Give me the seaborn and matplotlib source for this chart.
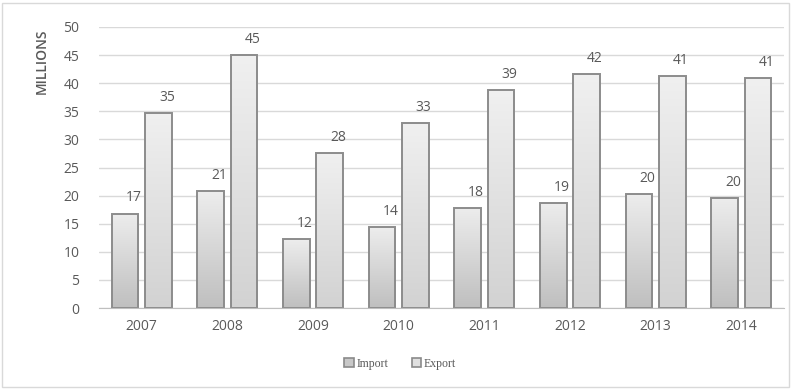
import numpy as np
import pandas as pd
import matplotlib
matplotlib.use("Agg")
import matplotlib.pyplot as plt
import seaborn as sns
from matplotlib.patches import Rectangle, Patch
from matplotlib.colors import LinearSegmentedColormap

years = ["2007", "2008", "2009", "2010", "2011", "2012", "2013", "2014"]
import_vals = [16.8, 20.8, 12.2, 14.4, 17.8, 18.7, 20.3, 19.6]
export_vals = [34.7, 45.0, 27.6, 32.9, 38.8, 41.6, 41.3, 40.9]
series = ["Import", "Export"]

df = pd.DataFrame({
    "Year": years * 2,
    "Value": import_vals + export_vals,
    "Series": ["Import"] * len(years) + ["Export"] * len(years),
})

sns.set_style("white")
plt.rcParams["font.family"] = ["Open Sans", "DejaVu Sans"]

W, H = 792, 389
fig = plt.figure(figsize=(W / 100, H / 100), dpi=100)
ax = fig.add_axes([99 / W, 1 - 308 / H, (784 - 99) / W, (308 - 27) / H])

sns.barplot(data=df, x="Year", y="Value", hue="Series", hue_order=series,
            ax=ax, width=0.78, gap=0.2, legend=False,
            palette=["#d0d0d0", "#e4e4e4"], edgecolor="#8c8c8c", linewidth=1.4)

ax.set_ylim(0, 50)
ax.set_yticks(range(0, 51, 5))
ax.grid(axis="y", color="#d9d9d9", linewidth=1.0)
ax.set_axisbelow(True)
for s in ["top", "right", "left"]:
    ax.spines[s].set_visible(False)
ax.spines["bottom"].set_color("#bfbfbf")
ax.tick_params(axis="both", length=0, labelsize=10, labelcolor="#595959")
ax.tick_params(axis="y", pad=14)
ax.tick_params(axis="x", pad=8)
ax.set_xlabel("")
ax.set_ylabel("")

cmaps = {
    "Import": LinearSegmentedColormap.from_list("imp", ["#bfbfbf", "#ededed"]),
    "Export": LinearSegmentedColormap.from_list("exp", ["#d2d2d2", "#f0f0f0"]),
}
grad = np.linspace(0, 1, 256).reshape(-1, 1)
patches = [p for p in ax.patches if isinstance(p, Rectangle)]
n = len(years)
for i, p in enumerate(patches[:2 * n]):
    s = series[i // n]
    x0, y0 = p.get_x(), p.get_y()
    w, h = p.get_width(), p.get_height()
    im = ax.imshow(grad, cmap=cmaps[s], aspect="auto", origin="lower",
                   extent=[x0, x0 + w, y0, y0 + h], zorder=p.get_zorder() - 0.1)
    im.set_clip_path(p)
    p.set_facecolor("none")
    ax.annotate(f"{round(h):d}", (x0 + w / 2, h), xytext=(6, 6),
                textcoords="offset points", ha="center", va="bottom",
                fontsize=10, color="#595959")
ax.set_xlim(-0.5, n - 0.5)
ax.set_ylim(0, 50)

fig.text(42 / W, 1 - 61 / H, "MILLIONS", rotation=90, ha="center", va="center",
         fontsize=10, color="#595959", fontweight="semibold")

handles = [Patch(facecolor="#c8c8c8", edgecolor="#8a8a8a", linewidth=1.2, label="Import"),
           Patch(facecolor="#e0e0e0", edgecolor="#8a8a8a", linewidth=1.2, label="Export")]
fig.legend(handles=handles, loc="center", bbox_to_anchor=(400 / W, 1 - 364 / H),
           ncol=2, frameon=False, handlelength=0.8, handleheight=0.8,
           handletextpad=0.2, columnspacing=2.0,
           prop={"family": ["Liberation Serif", "DejaVu Serif"], "size": 8.5})
for t in fig.legends[0].get_texts():
    t.set_color("#595959")

fig.patches.append(Rectangle((2 / W, 2 / H), (W - 5) / W, (H - 5) / H,
                             transform=fig.transFigure, fill=False,
                             edgecolor="#d9d9d9", linewidth=1.0))

fig.savefig("out.png", dpi=100)
